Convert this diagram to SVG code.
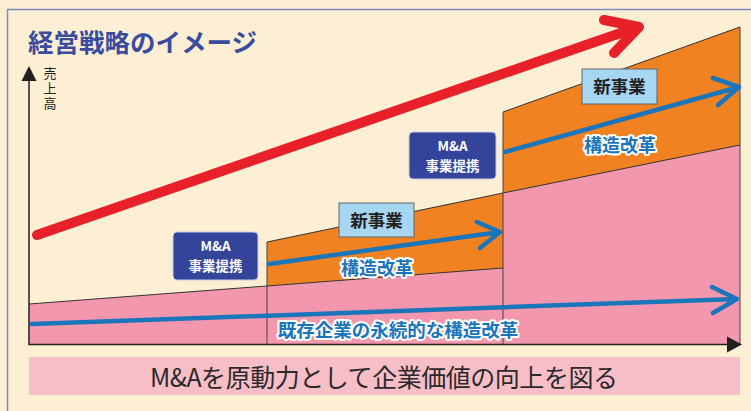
<svg xmlns="http://www.w3.org/2000/svg" width="751" height="411" viewBox="0 0 751 411">
<defs>
<style>
.jp{font-family:"Noto Sans CJK JP","Noto Sans",sans-serif;}
.title{font-size:25.5px;font-weight:bold;fill:#3a4c9f;}
.axis{stroke:#231f20;stroke-width:1.5;fill:none;}
.div{stroke:#444;stroke-width:1;fill:none;}
.edge{stroke:#333;stroke-width:1;fill:none;}
.blue{stroke:#1b75bb;stroke-width:4.5;fill:none;stroke-linecap:round;stroke-linejoin:round;}
.red{stroke:#e8202a;stroke-width:10;fill:none;stroke-linecap:round;stroke-linejoin:round;}
.mabox{fill:#33449a;stroke:#c8cbe6;stroke-width:1;}
.matext{font-size:13.5px;font-weight:bold;fill:#fff;text-anchor:middle;}
.newbox{fill:#a6d6f2;stroke:#666;stroke-width:1;}
.newtext{font-size:17.5px;font-weight:bold;fill:#231f20;text-anchor:middle;}
.halo{font-weight:bold;fill:#1b75bb;stroke:#fff;stroke-width:4;stroke-linejoin:round;paint-order:stroke;text-anchor:middle;}
</style>
</defs>
<rect x="0" y="0" width="751" height="411" fill="#fdefd3"/>
<path d="M7.5 411 V9.5 H751" fill="none" stroke="#7f8cc8" stroke-width="1.5"/>
<text class="jp title" x="28" y="52">経営戦略のイメージ</text>

<g id="areas">
<polygon points="29,304 267,286 267,344 29,344" fill="#f397ae"/>
<polygon points="267,286 503,268 503,344 267,344" fill="#f397ae"/>
<polygon points="503,193 740,145 740,344 503,344" fill="#f397ae"/>
<polygon points="267,242 503,193 503,268 267,286" fill="#f18221"/>
<polygon points="503,112 740,27 740,145 503,193" fill="#f18221"/>
<path class="edge" d="M29 304 L267 286 L503 268"/>
<path class="edge" d="M267 242 L503 193 L740 145"/>
<path class="edge" d="M503 112 L740 27"/>
<path class="div" d="M267 242 V344 M503 112 V344 M740 27 V344"/>
</g>

<g id="axes">
<path class="axis" d="M29 80 V344.5 H728"/>
<polygon points="29,66 21.5,81 36.5,81" fill="#231f20"/>
<polygon points="742,344.5 727,336.5 727,352.5" fill="#231f20"/>
<text class="jp" font-size="13" fill="#231f20" x="50" y="67" writing-mode="vertical-rl" letter-spacing="2">売上高</text>
</g>

<g id="connectors">
<path class="red" d="M37 235 L638 27 M604 20 L639 27 L614 53"/>
<path class="blue" d="M32 324 L737 299 M712 287 L737 299 L713 313"/>
<path class="blue" d="M269 264 L500 232 M477 222 L500 232 L480 248"/>
<path class="blue" d="M505 152 L739 87 M713 78 L739 87 L718 105"/>
</g>

<g id="ma1">
<rect class="mabox" x="173" y="232" width="85" height="48" rx="4"/>
<text class="jp matext"><tspan x="215.5" y="251">M&amp;A</tspan><tspan x="215.5" y="271">事業提携</tspan></text>
</g>
<g id="ma2">
<rect class="mabox" x="409" y="132" width="87" height="47" rx="4"/>
<text class="jp matext"><tspan x="452.5" y="150.5">M&amp;A</tspan><tspan x="452.5" y="170.5">事業提携</tspan></text>
</g>
<g id="new1">
<rect class="newbox" x="339" y="203" width="75" height="34"/>
<text class="jp newtext" x="376.5" y="226.5">新事業</text>
</g>
<g id="new2">
<rect class="newbox" x="582" y="69" width="75" height="35"/>
<text class="jp newtext" x="619.5" y="93">新事業</text>
</g>
<g id="kaikaku1">
<text class="jp halo" font-size="18" x="377" y="275">構造改革</text>
</g>
<g id="kaikaku2">
<text class="jp halo" font-size="18" x="620" y="152">構造改革</text>
</g>
<g id="kison">
<text class="jp halo" font-size="18.5" x="398" y="337">既存企業の永続的な構造改革</text>
</g>

<g id="banner">
<rect x="29" y="357" width="711" height="38" fill="#f8bec7"/>
<text class="jp" font-size="25" fill="#2a2a2a" x="150" y="387" textLength="468">M&amp;Aを原動力として企業価値の向上を図る</text>
</g>
</svg>
